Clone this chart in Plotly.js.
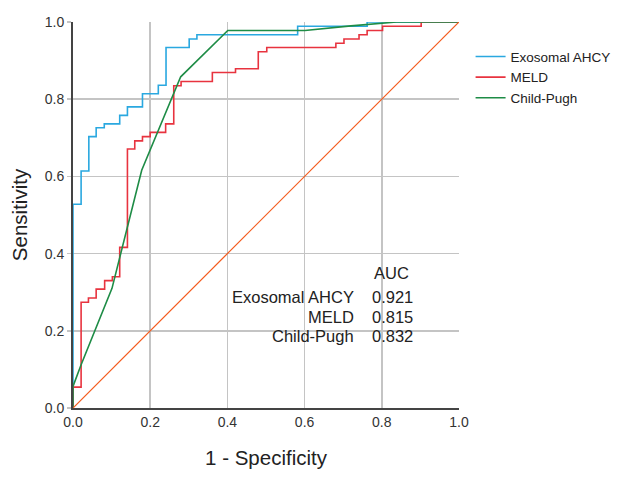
<!DOCTYPE html>
<html>
<head>
<meta charset="utf-8">
<script src="https://cdn.plot.ly/plotly-3.0.1.min.js"></script>
<style>html,body{margin:0;padding:0;background:#fff;}#chart{width:630px;height:487px;}</style>
</head>
<body>
<div id="chart"></div>
<script>
// Exosomal AHCY ROC (step corners, 'hv')
const ahcyX = [0, 0, 0.021, 0.041, 0.060, 0.081, 0.121, 0.141, 0.180, 0.221, 0.241, 0.301, 0.321, 0.582, 0.762, 1.0];
const ahcyY = [0, 0.528, 0.614, 0.703, 0.726, 0.736, 0.758, 0.780, 0.814, 0.836, 0.934, 0.956, 0.967, 0.989, 1.0, 1.0];
// MELD ROC (step corners, 'hv')
const meldX = [0, 0, 0.021, 0.040, 0.060, 0.082, 0.102, 0.121, 0.141, 0.160, 0.180, 0.200, 0.240, 0.261, 0.280, 0.361, 0.421, 0.480, 0.502, 0.681, 0.702, 0.741, 0.762, 0.802, 0.902, 1.0];
const meldY = [0, 0.054, 0.274, 0.285, 0.308, 0.330, 0.340, 0.416, 0.671, 0.692, 0.703, 0.714, 0.736, 0.835, 0.846, 0.869, 0.879, 0.923, 0.934, 0.945, 0.956, 0.967, 0.978, 0.989, 1.0, 1.0];
// Child-Pugh ROC (linear)
const cpX = [0, 0, 0.021, 0.101, 0.178, 0.279, 0.401, 0.601, 0.72, 0.838, 1.0];
const cpY = [0, 0.056, 0.112, 0.310, 0.616, 0.858, 0.978, 0.978, 0.990, 1.0, 1.0];
// Reference line
const refX = [0, 1];
const refY = [0, 1];
// AUC table
const seriesNames = ["Exosomal AHCY", "MELD", "Child-Pugh"];
const aucValues = ["0.921", "0.815", "0.832"];
const tickVals = [0, 0.2, 0.4, 0.6, 0.8, 1.0];
const tickText = ["0.0", "0.2", "0.4", "0.6", "0.8", "1.0"];

const FONT = "Liberation Sans, Arial, sans-serif";

const traces = [
  {x: ahcyX, y: ahcyY, mode: "lines", name: seriesNames[0], line: {color: "#2aa8e0", width: 1.6, shape: "hv"}},
  {x: meldX, y: meldY, mode: "lines", name: seriesNames[1], line: {color: "#e8333f", width: 1.6, shape: "hv"}},
  {x: cpX, y: cpY, mode: "lines", name: seriesNames[2], line: {color: "#1e8c46", width: 1.6}},
  {x: refX, y: refY, mode: "lines", name: "Reference", showlegend: false, line: {color: "#f45a1c", width: 1.2}}
];

const rowY = [0.287, 0.235, 0.187];
const annotations = [
  {xref: "paper", yref: "paper", x: 0.825, y: 0.350, text: "AUC", showarrow: false, xanchor: "center", yanchor: "middle", font: {family: FONT, size: 16.5, color: "#222"}}
];
seriesNames.forEach((n, i) => {
  annotations.push({xref: "paper", yref: "paper", x: 0.733, y: rowY[i], text: n, showarrow: false, xanchor: "right", yanchor: "middle", font: {family: FONT, size: 16.5, color: "#222"}});
  annotations.push({xref: "paper", yref: "paper", x: 0.769, y: rowY[i], text: aucValues[i], showarrow: false, xanchor: "left", yanchor: "middle", font: {family: FONT, size: 16.5, color: "#222"}});
});

const layout = {
  width: 630, height: 487,
  margin: {l: 72.7, r: 170.6, t: 21.7, b: 78.7, pad: 0},
  paper_bgcolor: "#fff", plot_bgcolor: "#fff",
  font: {family: FONT, color: "#333"},
  showlegend: true,
  legend: {x: 1.030, y: 0.950, xanchor: "left", yanchor: "top", font: {family: FONT, size: 13.5, color: "#222"}, bgcolor: "rgba(0,0,0,0)", tracegroupgap: 0},
  xaxis: {
    range: [0, 1], tickvals: tickVals, ticktext: tickText, showgrid: true, gridcolor: "#c4c4c4", gridwidth: 1.5,
    showline: true, linecolor: "#444", linewidth: 2, zeroline: false, ticks: "", layer: "below traces",
    tickfont: {family: FONT, size: 14, color: "#333"},
    title: {text: "1 - Specificity", font: {family: FONT, size: 20.5, color: "#222"}, standoff: 22}
  },
  yaxis: {
    range: [0, 1], tickvals: tickVals, ticktext: tickText, showgrid: true, gridcolor: "#c4c4c4", gridwidth: 1.5,
    showline: true, linecolor: "#444", linewidth: 2, zeroline: false, ticks: "outside", ticklen: 4, tickcolor: "#c4c4c4", tickwidth: 1.5, layer: "below traces",
    tickfont: {family: FONT, size: 14, color: "#333"},
    title: {text: "Sensitivity", font: {family: FONT, size: 20.5, color: "#222"}, standoff: 12}
  },
  annotations: annotations
};

Plotly.newPlot("chart", traces, layout, {displayModeBar: false, staticPlot: true});
</script>
</body>
</html>
